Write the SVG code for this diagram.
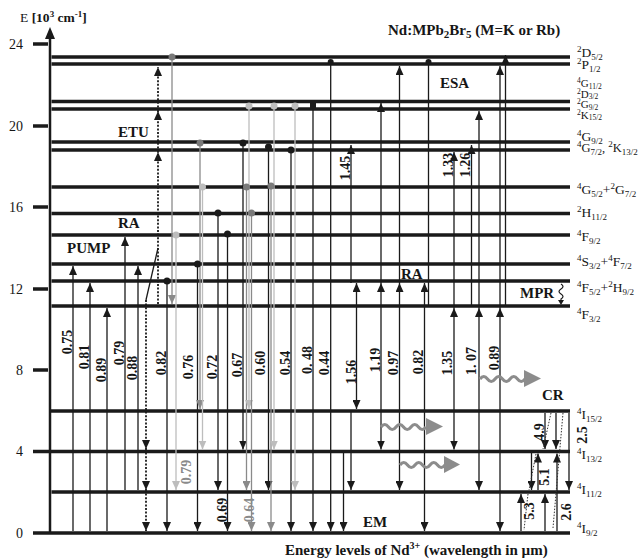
<svg xmlns="http://www.w3.org/2000/svg" width="638" height="560" viewBox="0 0 638 560">
<style>
text{font-family:"Liberation Serif","Times New Roman",serif;fill:#161616}
.lv{stroke:#1a1a1a;stroke-width:3.5}
.tk{stroke:#1a1a1a;stroke-width:3.5}
.lb{font-size:13.5px}
.lbs{font-size:12.5px}
.lbt{font-size:11px}
.s{font-size:9px}
.s2{font-size:7.5px}
.t{font-size:14px}
.b{font-weight:bold;font-size:15px}
.n{font-weight:bold;font-size:14px;text-anchor:middle}
.ng{font-size:14px;text-anchor:middle;fill:#8a8a8a;font-weight:bold}
.c{stroke:#1a1a1a;stroke-width:1.3;fill:none}
.cm{stroke:#8a8a8a;stroke-width:1.3;fill:none}
.cl{stroke:#bdbdbd;stroke-width:1.3;fill:none}
.dt{stroke-dasharray:2 1.6;stroke-width:1.8}
.dd{stroke:#333;stroke-width:1;stroke-dasharray:1.5 1.5;fill:none}
.dk{fill:#1a1a1a}
.dm{fill:#7a7a7a}
.dl{fill:#bdbdbd}
.wv{stroke:#8c8c8c;stroke-width:3;fill:none}
.wh{fill:#8c8c8c}
</style>
<defs>
<marker id="ah" viewBox="0 0 9 8" refX="9" refY="4" markerWidth="9" markerHeight="8" markerUnits="userSpaceOnUse" orient="auto-start-reverse"><path d="M0,0 L9,4 L0,8 z" fill="#1a1a1a"/></marker>
<marker id="ahm" viewBox="0 0 9 8" refX="9" refY="4" markerWidth="9" markerHeight="8" markerUnits="userSpaceOnUse" orient="auto-start-reverse"><path d="M0,0 L9,4 L0,8 z" fill="#8a8a8a"/></marker>
<marker id="ahl" viewBox="0 0 9 8" refX="9" refY="4" markerWidth="9" markerHeight="8" markerUnits="userSpaceOnUse" orient="auto-start-reverse"><path d="M0,0 L9,4 L0,8 z" fill="#bdbdbd"/></marker>
</defs>
<rect width="638" height="560" fill="#fff"/>

<g id="axis">
<line x1="50" y1="534" x2="50" y2="36" stroke="#1a1a1a" stroke-width="2.5"/>
<path d="M45,39 L50,27 L55,39 z" fill="#1a1a1a"/>
<line class="tk" x1="33" y1="44" x2="48" y2="44"/>
<line class="tk" x1="33" y1="126" x2="48" y2="126"/>
<line class="tk" x1="33" y1="207" x2="48" y2="207"/>
<line class="tk" x1="33" y1="289" x2="48" y2="289"/>
<line class="tk" x1="33" y1="370" x2="48" y2="370"/>
<line class="tk" x1="33" y1="451.5" x2="50" y2="451.5"/>
<line class="tk" x1="33" y1="533" x2="50" y2="533"/>
<g class="t" text-anchor="end">
<text x="23" y="49">24</text>
<text x="23" y="131">20</text>
<text x="23" y="212">16</text>
<text x="23" y="294">12</text>
<text x="23" y="375">8</text>
<text x="23" y="456">4</text>
<text x="23" y="538">0</text>
</g>
<text x="20" y="22" font-size="13.5">E <tspan font-weight="bold">[10<tspan class="s" dy="-5">3</tspan><tspan dy="5"> cm</tspan><tspan class="s" dy="-5">-1</tspan><tspan dy="5">]</tspan></tspan></text>
</g>

<g id="lvl-2D52"><line class="lv" x1="51.5" y1="57" x2="570" y2="57"/><text class="lb" x="577" y="57"><tspan class="s" dy="-5">2</tspan><tspan dy="5">D</tspan><tspan class="s" dy="3">5/2</tspan></text></g>
<g id="lvl-2P12"><line class="lv" x1="51.5" y1="64" x2="570" y2="64"/><text class="lb" x="577" y="68.5"><tspan class="s" dy="-5">2</tspan><tspan dy="5">P</tspan><tspan class="s" dy="3">1/2</tspan></text></g>
<g id="lvl-4G112"><line class="lv" x1="51.5" y1="101.5" x2="570" y2="101.5"/><text class="lbt" x="577" y="87"><tspan class="s2" dy="-4">4</tspan><tspan dy="4">G</tspan><tspan class="s2" dy="1.5">11/2</tspan></text><text class="lbt" x="577" y="97.5"><tspan class="s2" dy="-4">2</tspan><tspan dy="4">D</tspan><tspan class="s2" dy="1.5">3/2</tspan></text></g>
<g id="lvl-2G92"><line class="lv" x1="51.5" y1="109" x2="570" y2="109"/><text class="lbt" x="577" y="108"><tspan class="s2" dy="-4">2</tspan><tspan dy="4">G</tspan><tspan class="s2" dy="1.5">9/2</tspan></text><text class="lbt" x="577" y="118.5"><tspan class="s2" dy="-4">2</tspan><tspan dy="4">K</tspan><tspan class="s2" dy="1.5">15/2</tspan></text></g>
<g id="lvl-4G92"><line class="lv" x1="51.5" y1="142" x2="570" y2="142"/><text class="lb" x="577" y="141"><tspan class="s" dy="-5">4</tspan><tspan dy="5">G</tspan><tspan class="s" dy="3">9/2</tspan></text></g>
<g id="lvl-4G72"><line class="lv" x1="51.5" y1="150" x2="570" y2="150"/><text class="lbs" x="577" y="152"><tspan class="s" dy="-5">4</tspan><tspan dy="5">G</tspan><tspan class="s" dy="3">7/2</tspan><tspan dy="-3">, </tspan><tspan class="s" dy="-5">2</tspan><tspan dy="5">K</tspan><tspan class="s" dy="3">13/2</tspan></text></g>
<g id="lvl-4G52"><line class="lv" x1="51.5" y1="187" x2="570" y2="187"/><text class="lb" x="577" y="194"><tspan class="s" dy="-5">4</tspan><tspan dy="5">G</tspan><tspan class="s" dy="3">5/2</tspan><tspan dy="-3">+</tspan><tspan class="s" dy="-5">2</tspan><tspan dy="5">G</tspan><tspan class="s" dy="3">7/2</tspan></text></g>
<g id="lvl-2H112"><line class="lv" x1="51.5" y1="213.5" x2="570" y2="213.5"/><text class="lb" x="577" y="217"><tspan class="s" dy="-5">2</tspan><tspan dy="5">H</tspan><tspan class="s" dy="3">11/2</tspan></text></g>
<g id="lvl-4F92"><line class="lv" x1="51.5" y1="235" x2="570" y2="235"/><text class="lb" x="577" y="241"><tspan class="s" dy="-5">4</tspan><tspan dy="5">F</tspan><tspan class="s" dy="3">9/2</tspan></text></g>
<g id="lvl-4S32"><line class="lv" x1="51.5" y1="264" x2="570" y2="264"/><text class="lb" x="577" y="266"><tspan class="s" dy="-5">4</tspan><tspan dy="5">S</tspan><tspan class="s" dy="3">3/2</tspan><tspan dy="-3">+</tspan><tspan class="s" dy="-5">4</tspan><tspan dy="5">F</tspan><tspan class="s" dy="3">7/2</tspan></text></g>
<g id="lvl-4F52"><line class="lv" x1="51.5" y1="281" x2="570" y2="281"/><text class="lb" x="577" y="292"><tspan class="s" dy="-5">4</tspan><tspan dy="5">F</tspan><tspan class="s" dy="3">5/2</tspan><tspan dy="-3">+</tspan><tspan class="s" dy="-5">2</tspan><tspan dy="5">H</tspan><tspan class="s" dy="3">9/2</tspan></text></g>
<g id="lvl-4F32"><line class="lv" x1="51.5" y1="306" x2="570" y2="306"/><text class="lb" x="577" y="319"><tspan class="s" dy="-5">4</tspan><tspan dy="5">F</tspan><tspan class="s" dy="3">3/2</tspan></text></g>
<g id="lvl-4I152"><line class="lv" x1="49" y1="411" x2="570" y2="411"/><text class="lb" x="577" y="419"><tspan class="s" dy="-5">4</tspan><tspan dy="5">I</tspan><tspan class="s" dy="3">15/2</tspan></text></g>
<g id="lvl-4I132"><line class="lv" x1="50" y1="451.5" x2="570" y2="451.5"/><text class="lb" x="577" y="459"><tspan class="s" dy="-5">4</tspan><tspan dy="5">I</tspan><tspan class="s" dy="3">13/2</tspan></text></g>
<g id="lvl-4I112"><line class="lv" x1="51.5" y1="492" x2="570" y2="492"/><text class="lb" x="577" y="494"><tspan class="s" dy="-5">4</tspan><tspan dy="5">I</tspan><tspan class="s" dy="3">11/2</tspan></text></g>
<g id="lvl-4I92"><line class="lv" x1="50" y1="533" x2="570" y2="533"/><text class="lb" x="577" y="533"><tspan class="s" dy="-5">4</tspan><tspan dy="5">I</tspan><tspan class="s" dy="3">9/2</tspan></text></g>

<g id="connectors">
<line class="c" x1="73" y1="531" x2="73" y2="266" marker-end="url(#ah)"/>
<line class="c" x1="90" y1="531" x2="90" y2="283" marker-end="url(#ah)"/>
<line class="c" x1="107" y1="531" x2="107" y2="308" marker-end="url(#ah)"/>
<line class="c" x1="125" y1="490" x2="125" y2="237" marker-end="url(#ah)"/>
<line class="c" x1="138" y1="490" x2="138" y2="266" marker-end="url(#ah)"/>
<line class="c dt" x1="158" y1="304" x2="158" y2="152" marker-end="url(#ah)"/>
<line class="c dt" x1="158" y1="152" x2="158" y2="111" marker-end="url(#ah)"/>
<line class="c dt" x1="158" y1="111" x2="158" y2="67" marker-end="url(#ah)"/>
<line class="c" x1="146" y1="300" x2="158" y2="248"/>
<line class="c dt" x1="146" y1="300" x2="146" y2="449" marker-end="url(#ah)"/>
<line class="c dt" x1="146" y1="449" x2="146" y2="490" marker-end="url(#ah)"/>
<line class="c dt" x1="146" y1="490" x2="146" y2="531" marker-end="url(#ah)"/>
<line class="c" x1="167" y1="281" x2="167" y2="531" marker-end="url(#ah)"/>
<line class="cm" x1="172" y1="57" x2="172" y2="304" marker-end="url(#ahm)"/>
<line class="cl" x1="176" y1="235" x2="176" y2="490" marker-end="url(#ahl)"/>
<line class="c" x1="197.5" y1="264" x2="197.5" y2="531" marker-end="url(#ah)"/>
<line class="cm" x1="200" y1="143" x2="200" y2="409" marker-end="url(#ahm)"/>
<line class="cl" x1="202.5" y1="187" x2="202.5" y2="449.5" marker-end="url(#ahl)"/>
<line class="c" x1="218" y1="213" x2="218" y2="490" marker-end="url(#ah)"/>
<line class="c" x1="227.5" y1="234" x2="227.5" y2="531" marker-end="url(#ah)"/>
<line class="c" x1="243" y1="143" x2="243" y2="449.5" marker-end="url(#ah)"/>
<line class="cm" x1="246.5" y1="187" x2="246.5" y2="490" marker-end="url(#ahm)"/>
<line class="cl" x1="249" y1="106" x2="249" y2="409" marker-end="url(#ahl)"/>
<line class="cm" x1="251.5" y1="213" x2="251.5" y2="531" marker-end="url(#ahm)"/>
<line class="c" x1="268.5" y1="147" x2="268.5" y2="490" marker-end="url(#ah)"/>
<line class="cm" x1="271" y1="186" x2="271" y2="531" marker-end="url(#ahm)"/>
<line class="cl" x1="274" y1="106" x2="274" y2="449.5" marker-end="url(#ahl)"/>
<line class="c" x1="291" y1="150" x2="291" y2="531" marker-end="url(#ah)"/>
<line class="cl" x1="295" y1="106" x2="295" y2="490" marker-end="url(#ahl)"/>
<line class="c" x1="313" y1="105" x2="313" y2="531" marker-end="url(#ah)"/>
<line class="c" x1="330.7" y1="62" x2="330.7" y2="531" marker-end="url(#ah)"/>
<line class="c" x1="343.5" y1="451" x2="343.5" y2="531" marker-end="url(#ah)"/>
<line class="c" x1="351" y1="283" x2="351" y2="145" marker-end="url(#ah)"/>
<line class="c" x1="351" y1="411" x2="351" y2="490" marker-end="url(#ah)"/>
<line class="c" x1="356.5" y1="409" x2="356.5" y2="283" marker-start="url(#ah)" marker-end="url(#ah)"/>
<line class="c" x1="381" y1="449.5" x2="381" y2="283" marker-start="url(#ah)" marker-end="url(#ah)"/>
<line class="c" x1="381" y1="283" x2="381" y2="103" marker-end="url(#ah)"/>
<line class="c" x1="399.5" y1="490" x2="399.5" y2="283" marker-start="url(#ah)" marker-end="url(#ah)"/>
<line class="c" x1="399.5" y1="283" x2="399.5" y2="66" marker-end="url(#ah)"/>
<line class="c" x1="424.5" y1="531" x2="424.5" y2="283" marker-start="url(#ah)" marker-end="url(#ah)"/>
<line class="c" x1="428.5" y1="62" x2="428.5" y2="305"/>
<line class="c" x1="454" y1="449.5" x2="454" y2="308" marker-start="url(#ah)" marker-end="url(#ah)"/>
<line class="c" x1="454" y1="308" x2="454" y2="152" marker-end="url(#ah)"/>
<line class="c" x1="471.5" y1="306" x2="471.5" y2="145" marker-end="url(#ah)"/>
<line class="c" x1="479" y1="490" x2="479" y2="308" marker-start="url(#ah)" marker-end="url(#ah)"/>
<line class="c" x1="479" y1="308" x2="479" y2="111" marker-end="url(#ah)"/>
<line class="c" x1="500" y1="531" x2="500" y2="308" marker-start="url(#ah)" marker-end="url(#ah)"/>
<line class="c" x1="500" y1="308" x2="500" y2="66" marker-end="url(#ah)"/>
<line class="c" x1="505.5" y1="306" x2="505.5" y2="55" marker-end="url(#ah)"/>
<line class="c" x1="545" y1="413" x2="545" y2="449" marker-end="url(#ah)"/>
<line class="c" x1="556" y1="413" x2="556" y2="449" marker-end="url(#ah)"/>
<line class="c" x1="569" y1="413" x2="569" y2="490" marker-end="url(#ah)"/>
<line class="c" x1="531.5" y1="453" x2="531.5" y2="490" marker-end="url(#ah)"/>
<line class="c" x1="538" y1="490" x2="538" y2="453.5" marker-end="url(#ah)"/>
<line class="c" x1="557" y1="531" x2="557" y2="453.5" marker-end="url(#ah)"/>
<line class="c" x1="521" y1="531" x2="521" y2="494" marker-end="url(#ah)"/>
<line class="c" x1="545" y1="531" x2="545" y2="494" marker-end="url(#ah)"/>
<line class="dd" x1="551" y1="413" x2="543" y2="449"/>
<line class="dd" x1="563" y1="413" x2="553" y2="528"/>
<line class="dd" x1="536" y1="454" x2="529" y2="490"/>
<line class="dd" x1="528" y1="494" x2="524" y2="530"/>
<path d="M561,284 q4,2.5 0,5 q-4,2.5 0,5 q4,2.5 0,5 l0,2" stroke="#1a1a1a" stroke-width="1.2" fill="none"/>
<path d="M558,300 L564,300 L561,305 z" fill="#1a1a1a"/>
<path class="wv" d="M381,427 q3.75,-5 7.5,0 t7.5,0 t7.5,0 t7.5,0 t7.5,0 t7.5,0"/>
<path class="wh" d="M426,418 L443,426.5 L426,435 z"/>
<path class="wv" d="M400,465 q3.75,-5 7.5,0 t7.5,0 t7.5,0 t7.5,0 t7.5,0 t7.5,0"/>
<path class="wh" d="M444,456 L460,464.5 L444,473 z"/>
<path class="wv" d="M480,379 q3.75,-5 7.5,0 t7.5,0 t7.5,0 t7.5,0 t7.5,0 t7.5,0"/>
<path class="wh" d="M524,370 L541,378.5 L524,387 z"/>
<circle class="dk" cx="167" cy="281" r="3.5"/>
<circle class="dm" cx="172" cy="57" r="3.5"/>
<circle class="dl" cx="176" cy="235" r="3.5"/>
<circle class="dk" cx="197.5" cy="264" r="3.5"/>
<circle class="dm" cx="200" cy="143" r="3.5"/>
<circle class="dl" cx="202.5" cy="187" r="3.5"/>
<circle class="dk" cx="218" cy="213" r="3.5"/>
<circle class="dk" cx="227.5" cy="234" r="3.5"/>
<circle class="dk" cx="243" cy="143" r="3.5"/>
<circle class="dm" cx="246.5" cy="187" r="3.5"/>
<circle class="dl" cx="249" cy="106" r="3.5"/>
<circle class="dm" cx="251.5" cy="213" r="3.5"/>
<circle class="dk" cx="268.5" cy="147" r="3.5"/>
<circle class="dm" cx="271" cy="186" r="3.5"/>
<circle class="dl" cx="274" cy="106" r="3.5"/>
<circle class="dk" cx="291" cy="150" r="3.5"/>
<circle class="dl" cx="295" cy="106" r="3.5"/>
<rect class="dk" x="310" y="102" width="6" height="6"/>
<circle class="dk" cx="330.7" cy="62" r="3"/>
<circle class="dk" cx="428.5" cy="62" r="3"/>
<text class="n" transform="translate(71.5,342) rotate(-90)">0.75</text>
<text class="n" transform="translate(88.5,357) rotate(-90)">0.81</text>
<text class="n" transform="translate(105.5,370) rotate(-90)">0.89</text>
<text class="n" transform="translate(123.5,353) rotate(-90)">0.79</text>
<text class="n" transform="translate(136.5,368) rotate(-90)">0.88</text>
<text class="n" transform="translate(165.5,363) rotate(-90)">0.82</text>
<text class="n" transform="translate(193,367) rotate(-90)">0.76</text>
<text class="n" transform="translate(216.5,367) rotate(-90)">0.72</text>
<text class="n" transform="translate(241.5,365) rotate(-90)">0.67</text>
<text class="n" transform="translate(265,363) rotate(-90)">0.60</text>
<text class="n" transform="translate(289.5,363) rotate(-90)">0.54</text>
<text class="n" transform="translate(311.5,360) rotate(-90)">0. 48</text>
<text class="n" transform="translate(329,363) rotate(-90)">0.44</text>
<text class="n" transform="translate(355.5,372) rotate(-90)">1.56</text>
<text class="n" transform="translate(379.5,360) rotate(-90)">1.19</text>
<text class="n" transform="translate(398,363) rotate(-90)">0.97</text>
<text class="n" transform="translate(423,362) rotate(-90)">0.82</text>
<text class="n" transform="translate(452,363) rotate(-90)">1.35</text>
<text class="n" transform="translate(476,361) rotate(-90)">1. 07</text>
<text class="n" transform="translate(498.5,358) rotate(-90)">0.89</text>
<text class="n" transform="translate(349.5,168) rotate(-90)">1.45</text>
<text class="n" transform="translate(452.5,165) rotate(-90)">1.33</text>
<text class="n" transform="translate(470,165) rotate(-90)">1.26</text>
<text class="ng" transform="translate(191,472) rotate(-90)">0.79</text>
<text class="n" transform="translate(227,510) rotate(-90)">0.69</text>
<text class="ng" transform="translate(253.5,510) rotate(-90)">0.64</text>
<text class="n" transform="translate(544,432) rotate(-90)">4.9</text>
<text class="n" transform="translate(587,435) rotate(-90)">2.5</text>
<text class="n" transform="translate(549,477) rotate(-90)">5.1</text>
<text class="n" transform="translate(534,511) rotate(-90)">5.3</text>
<text class="n" transform="translate(571,512) rotate(-90)">2.6</text>
</g>

<g id="process-labels">
<text class="b" x="67" y="253">PUMP</text>
<text class="b" x="118" y="228">RA</text>
<text class="b" x="118" y="137">ETU</text>
<text class="b" x="440" y="88">ESA</text>
<text class="b" x="401" y="279">RA</text>
<text class="b" x="520" y="298">MPR</text>
<text class="b" x="542" y="400">CR</text>
<text class="b" x="363" y="527">EM</text>
</g>

<g id="titles">
<text class="b" x="388" y="35">Nd:MPb<tspan font-size="11" dy="3">2</tspan><tspan dy="-3">Br</tspan><tspan font-size="11" dy="3">5</tspan><tspan dy="-3">  (M=K or Rb)</tspan></text>
<text class="b" x="285" y="555">Energy levels of Nd<tspan font-size="10" dy="-6">3+</tspan><tspan dy="6"> (wavelength in µm)</tspan></text>
</g>
</svg>
